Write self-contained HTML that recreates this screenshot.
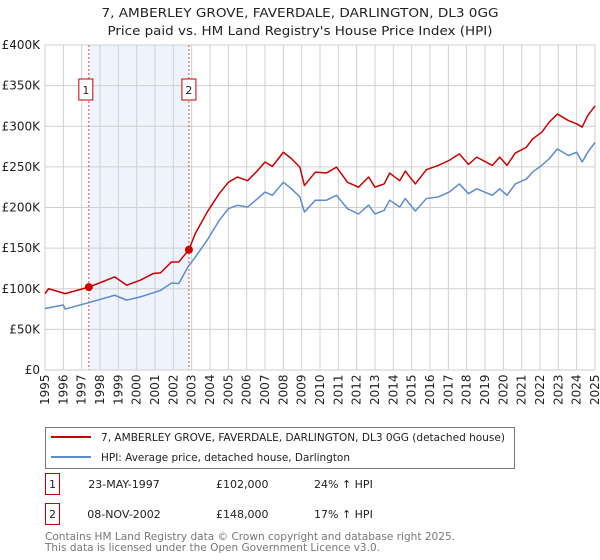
<!DOCTYPE html>
<html><head><meta charset="utf-8"><style>
body{margin:0;background:#fff;font-family:"DejaVu Sans","Liberation Sans",sans-serif;}
#wrap{position:relative;width:600px;height:560px;overflow:hidden;}
</style></head><body>
<div id="wrap">
<svg id="chart" width="600" height="560" xmlns="http://www.w3.org/2000/svg" font-family="DejaVu Sans, Liberation Sans, sans-serif"></svg>
</div>
<script>
const years=[1995,1996,1997,1998,1999,2000,2001,2002,2003,2004,2005,2006,2007,2008,2009,2010,2011,2012,2013,2014,2015,2016,2017,2018,2019,2020,2021,2022,2023,2024,2025];
const yTicks=[0,50,100,150,200,250,300,350,400];
const hpiT=[1995.0,1996.0,1996.1,1997.35,1998.8,1999.45,2000.2,2000.9,2001.3,2001.9,2002.3,2002.8,2003.2,2003.85,2004.5,2005.0,2005.5,2006.05,2006.6,2007.0,2007.4,2008.0,2008.45,2008.9,2009.15,2009.75,2010.35,2010.9,2011.5,2012.1,2012.65,2013.0,2013.5,2013.8,2014.35,2014.65,2015.2,2015.8,2016.45,2017.05,2017.6,2018.1,2018.55,2019.4,2019.8,2020.2,2020.65,2021.25,2021.6,2022.1,2022.5,2022.95,2023.55,2024.0,2024.3,2024.6,2025.0];
const hpiV=[75.7,80,75,82.7,92,86,90,95,98,107,106.5,127,139,160,184,198.5,202.7,200.6,211,219,215,231,223,213,194.5,209,209,215,198.5,192,203,192,196.5,209,200.6,211,195.7,211,213,219,229,217,223,215,223,215,229,235,243.6,252,260,272,264,268,256,268,280];
const redT=[1995.0,1995.2,1996.1,1997.39,1998.8,1999.45,2000.2,2000.9,2001.3,2001.9,2002.3,2002.85,2003.2,2003.85,2004.5,2005.0,2005.5,2006.05,2006.6,2007.0,2007.4,2008.0,2008.45,2008.9,2009.15,2009.75,2010.35,2010.9,2011.5,2012.1,2012.65,2013.0,2013.5,2013.8,2014.35,2014.65,2015.2,2015.8,2016.45,2017.05,2017.6,2018.1,2018.55,2019.4,2019.8,2020.2,2020.65,2021.25,2021.6,2022.1,2022.5,2022.95,2023.55,2024.0,2024.3,2024.6,2025.0];
const redV=[94,100,94,102,114.6,104.4,110.5,118.7,119.5,133,133,148,168,194.5,217,231,237.5,233,245.6,256,250.6,268,260,249.7,227,243.6,242.4,249.7,231,225,237.5,225,229,242.4,233,244.8,229,246.5,251.8,258,266,253,262,251.8,262,251.8,267,274,284.5,292.7,305,315,307,303,299,313,325];
const saleT=[1997.39,2002.85];
const saleV=[102,148];
const saleLabels=["1","2"];

const svg=document.getElementById('chart');
const NS='http://www.w3.org/2000/svg';
const L=45,R=595,T=45,B=370;
const x=t=>L+(t-1995)/30*(R-L);
const y=v=>B-v/400*(B-T);
function mk(tag,attrs,parent){const e=document.createElementNS(NS,tag);for(const k in attrs)e.setAttribute(k,attrs[k]);(parent||svg).appendChild(e);return e;}

let t=mk('text',{x:300,y:17,'text-anchor':'middle','font-size':'12.5',fill:'#222',textLength:'397',lengthAdjust:'spacingAndGlyphs'});t.textContent='7, AMBERLEY GROVE, FAVERDALE, DARLINGTON, DL3 0GG';


t=mk('text',{x:300,y:35,'text-anchor':'middle','font-size':'12.5',fill:'#222',textLength:'385',lengthAdjust:'spacingAndGlyphs'});t.textContent="Price paid vs. HM Land Registry's House Price Index (HPI)";



let sh=mk('rect',{x:x(saleT[0]),y:T,width:x(saleT[1])-x(saleT[0]),height:B-T,fill:'#eef3fc'});



years.forEach(yr=>{
  const g=mk('line',{x1:x(yr),x2:x(yr),y1:T,y2:B,stroke:'#d0d0d0','stroke-width':1});
  
  
  const lb=mk('text',{transform:`translate(${x(yr)+4},${B+35}) rotate(-90)`,'font-size':'12',fill:'#222'});
  lb.textContent=yr;
  
  
});
yTicks.forEach(v=>{
  const g=mk('line',{x1:L,x2:R,y1:y(v),y2:y(v),stroke:'#d0d0d0','stroke-width':1});
  
  
  const lb=mk('text',{x:40,y:y(v)+4,'text-anchor':'end','font-size':'12',fill:'#222'});
  lb.textContent=v===0?'£0':'£'+v+'K';
  
  
});

saleT.forEach((s,i)=>{
  const l=mk('line',{x1:x(s),x2:x(s),y1:T,y2:B,stroke:'#e44','stroke-width':1,'stroke-dasharray':'2,2'});
  
  
  const bx=mk('rect',{x:i===0?x(s)-10:x(s)-7,y:79,width:14,height:21,fill:'#fff',stroke:'#c00','stroke-width':1});
  
  
  const tx=mk('text',{x:+bx.getAttribute('x')+7,y:94,'text-anchor':'middle','font-size':'11',fill:'#222'});
  tx.textContent=saleLabels[i];
  
  
});

function line(ts,vs,color,name){
  const p=mk('polyline',{points:ts.map((tt,i)=>x(tt)+','+y(vs[i])).join(' '),fill:'none',stroke:color,'stroke-width':1.5,'stroke-linejoin':'round'});
  
  
}
line(hpiT,hpiV,'#5b8bd0','hpi-line');
line(redT,redV,'#cc0000','price-paid-line');
saleT.forEach((s,i)=>{
  const c=mk('circle',{cx:x(s),cy:y(saleV[i]),r:4,fill:'#cc0000'});
  
  
});
const ax=mk('line',{x1:L,x2:R,y1:B,y2:B,stroke:'#ccc'});



const lg=mk('g',{});


mk('rect',{x:45.5,y:427.5,width:469,height:41,fill:'#fff',stroke:'#777'},lg);
mk('line',{x1:51,x2:91,y1:437,y2:437,stroke:'#cc0000','stroke-width':2},lg);
mk('line',{x1:51,x2:91,y1:457,y2:457,stroke:'#5b8bd0','stroke-width':2},lg);
t=mk('text',{x:101,y:441,'font-size':'11',fill:'#222',textLength:'404',lengthAdjust:'spacingAndGlyphs'},lg);t.textContent='7, AMBERLEY GROVE, FAVERDALE, DARLINGTON, DL3 0GG (detached house)';


t=mk('text',{x:101,y:461,'font-size':'11',fill:'#222',textLength:'249',lengthAdjust:'spacingAndGlyphs'},lg);t.textContent='HPI: Average price, detached house, Darlington';



const rows=[["1","23-MAY-1997","£102,000","24% ↑ HPI"],["2","08-NOV-2002","£148,000","17% ↑ HPI"]];
rows.forEach((r,i)=>{
  const yy=483+i*30;
  const b=mk('rect',{x:45.5,y:yy-9.5,width:14,height:21,fill:'#fff',stroke:'#c00'});
  
  
  const cols=[[52.5,'middle'],[124,'middle'],[216,'start'],[314,'start']];
  r.forEach((c,j)=>{
    const tx=mk('text',{x:cols[j][0],y:yy+5,'text-anchor':cols[j][1],'font-size':'11',fill:'#222'});
    tx.textContent=c;
    
    
  });
});
t=mk('text',{x:45,y:540,'font-size':'11',fill:'#777',textLength:'410',lengthAdjust:'spacingAndGlyphs'});t.textContent='Contains HM Land Registry data © Crown copyright and database right 2025.';


t=mk('text',{x:45,y:551,'font-size':'11',fill:'#777',textLength:'335',lengthAdjust:'spacingAndGlyphs'});t.textContent='This data is licensed under the Open Government Licence v3.0.';


</script>
</body></html>
